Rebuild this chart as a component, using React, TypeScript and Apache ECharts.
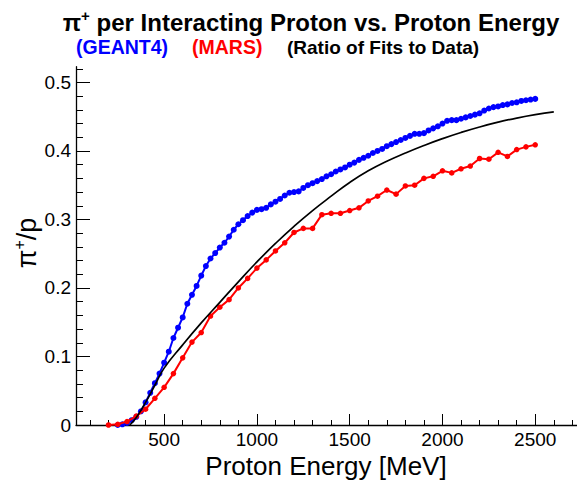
import React, { useEffect, useRef } from "react";
import * as echarts from "echarts";

// GEANT4 (blue)
const geantEnergy = [
  250, 275, 300, 325, 350, 375, 400, 425, 450, 475, 500, 525, 550, 575, 600, 625, 650, 675, 700, 725,
  750, 775, 800, 825, 850, 875, 900, 925, 950, 975, 1000, 1025, 1050, 1075, 1100, 1125, 1150, 1175, 1200, 1225,
  1250, 1275, 1300, 1325, 1350, 1375, 1400, 1425, 1450, 1475, 1500, 1525, 1550, 1575, 1600, 1625, 1650, 1675, 1700, 1725,
  1750, 1775, 1800, 1825, 1850, 1875, 1900, 1925, 1950, 1975, 2000, 2025, 2050, 2075, 2100, 2125, 2150, 2175, 2200, 2225,
  2250, 2275, 2300, 2325, 2350, 2375, 2400, 2425, 2450, 2475, 2500,
];
const geantRatio = [
  0.0, 0.001, 0.003, 0.007, 0.012, 0.02, 0.033, 0.047, 0.061, 0.075, 0.091, 0.107, 0.127, 0.142, 0.157, 0.177, 0.19, 0.203, 0.218, 0.232,
  0.243, 0.251, 0.259, 0.266, 0.275, 0.285, 0.293, 0.299, 0.305, 0.31, 0.314, 0.315, 0.317, 0.322, 0.326, 0.33, 0.335, 0.339, 0.34, 0.341,
  0.346, 0.35, 0.353, 0.356, 0.359, 0.363, 0.366, 0.37, 0.373, 0.376, 0.38, 0.383, 0.387, 0.39, 0.393, 0.397, 0.4, 0.403, 0.407, 0.41,
  0.413, 0.416, 0.419, 0.422, 0.425, 0.425, 0.426, 0.43, 0.433, 0.436, 0.44, 0.444, 0.445, 0.445, 0.447, 0.449, 0.451, 0.453, 0.455, 0.459,
  0.462, 0.464, 0.465, 0.467, 0.468, 0.47, 0.471, 0.473, 0.474, 0.475, 0.476,
];

// MARS (red)
const marsEnergy = [
  200, 250, 300, 350, 400, 450, 500, 550, 600, 650, 700, 750, 800, 850, 900, 950, 1000, 1050, 1100, 1150,
  1200, 1250, 1300, 1350, 1400, 1450, 1500, 1550, 1600, 1650, 1700, 1750, 1800, 1850, 1900, 1950, 2000, 2050, 2100, 2150,
  2200, 2250, 2300, 2350, 2400, 2450, 2500,
];
const marsRatio = [
  0.0, 0.001, 0.005, 0.013, 0.023, 0.039, 0.055, 0.075, 0.098, 0.121, 0.135, 0.159, 0.172, 0.183, 0.2, 0.214, 0.229, 0.241, 0.254, 0.266,
  0.281, 0.287, 0.287, 0.307, 0.309, 0.309, 0.313, 0.317, 0.327, 0.334, 0.343, 0.337, 0.349, 0.35, 0.36, 0.363, 0.371, 0.368, 0.374, 0.378,
  0.389, 0.388, 0.398, 0.392, 0.402, 0.406, 0.409,
];

// Fit (black)
const fitEnergy = [
  315, 350, 400, 450, 500, 600, 700, 800, 900, 1000, 1100, 1200, 1300, 1400, 1500, 1600, 1700, 1800, 1900, 2000,
  2100, 2200, 2300, 2400, 2500, 2600,
];
const fitRatio = [
  0.0, 0.011, 0.033, 0.058, 0.083, 0.117, 0.149, 0.179, 0.209, 0.238, 0.265, 0.29, 0.313, 0.334, 0.354, 0.371, 0.385, 0.397, 0.408, 0.418,
  0.427, 0.435, 0.442, 0.448, 0.453, 0.457,
];

const xMajorTicks = [500, 1000, 1500, 2000, 2500];
const xMinorTicks = [100, 200, 300, 400, 600, 700, 800, 900, 1100, 1200, 1300, 1400, 1600, 1700, 1800, 1900, 2100, 2200, 2300, 2400, 2600, 2700];
const yMajorTicks = [0, 0.1, 0.2, 0.3, 0.4, 0.5];
const yMinorTicks = [0.02, 0.04, 0.06, 0.08, 0.12, 0.14, 0.16, 0.18, 0.22, 0.24, 0.26, 0.28, 0.32, 0.34, 0.36, 0.38, 0.42, 0.44, 0.46, 0.48, 0.52];

const FONT = "Liberation Sans, Arial, Helvetica, sans-serif";

function zip(xs: number[], ys: number[]) {
  return xs.map((x, i) => [x, ys[i]]);
}

export default function App() {
  const ref = useRef<HTMLDivElement>(null);
  useEffect(() => {
    if (!ref.current) return;
    const chart = echarts.init(ref.current, null, { renderer: "svg" });
    const X_MIN = 25;
    const X_MAX = 2725;
    const Y_MIN = 0;
    const Y_MAX = 0.523;
    chart.setOption({
      animation: false,
      backgroundColor: "#ffffff",
      grid: { left: 76, top: 66.7, right: 0, bottom: 56, containLabel: false },
      xAxis: [
        {
          type: "value",
          min: X_MIN,
          max: X_MAX,
          position: "bottom",
          axisLine: { show: true, lineStyle: { color: "#000", width: 1.3 } },
          axisTick: { show: true, inside: true, length: 11, customValues: xMajorTicks, lineStyle: { color: "#000", width: 1 } },
          axisLabel: {
            show: true,
            customValues: xMajorTicks,
            color: "#000",
            fontSize: 19,
            fontFamily: FONT,
            margin: 5,
            formatter: (v: number) => String(v),
          },
          splitLine: { show: false },
        },
        {
          type: "value",
          min: X_MIN,
          max: X_MAX,
          position: "bottom",
          axisLine: { show: false },
          axisTick: { show: true, inside: true, length: 5, customValues: xMinorTicks, lineStyle: { color: "#000", width: 1 } },
          axisLabel: { show: false },
          splitLine: { show: false },
        },
      ],
      yAxis: [
        {
          type: "value",
          min: Y_MIN,
          max: Y_MAX,
          position: "left",
          axisLine: { show: true, lineStyle: { color: "#000", width: 1.3 } },
          axisTick: { show: true, inside: true, length: 14, customValues: yMajorTicks, lineStyle: { color: "#000", width: 1 } },
          axisLabel: {
            show: true,
            customValues: yMajorTicks,
            color: "#000",
            fontSize: 19,
            fontFamily: FONT,
            margin: 5,
            formatter: (v: number) => (v === 0 ? "0" : String(Math.round(v * 10) / 10)),
          },
          splitLine: { show: false },
        },
        {
          type: "value",
          min: Y_MIN,
          max: Y_MAX,
          position: "left",
          axisLine: { show: false },
          axisTick: { show: true, inside: true, length: 7, customValues: yMinorTicks, lineStyle: { color: "#000", width: 1 } },
          axisLabel: { show: false },
          splitLine: { show: false },
        },
      ],
      series: [
        {
          name: "GEANT4",
          type: "line",
          xAxisIndex: 0,
          yAxisIndex: 0,
          data: zip(geantEnergy, geantRatio),
          symbol: "circle",
          symbolSize: 6,
          lineStyle: { color: "#0000ff", width: 2 },
          itemStyle: { color: "#0000ff" },
          z: 3,
        },
        {
          name: "MARS",
          type: "line",
          xAxisIndex: 0,
          yAxisIndex: 0,
          data: zip(marsEnergy, marsRatio),
          symbol: "circle",
          symbolSize: 5.5,
          lineStyle: { color: "#ff0000", width: 2 },
          itemStyle: { color: "#ff0000" },
          z: 4,
        },
        {
          name: "Fit",
          type: "line",
          xAxisIndex: 0,
          yAxisIndex: 0,
          data: zip(fitEnergy, fitRatio),
          symbol: "none",
          smooth: 0.5,
          lineStyle: { color: "#000000", width: 1.7 },
          z: 5,
        },
      ],
      graphic: [
        {
          type: "text",
          x: 311,
          y: 20,
          style: {
            text: "{a|π}{s|+}{a| per Interacting Proton vs. Proton Energy}",
            align: "center",
            verticalAlign: "middle",
            rich: {
              a: { fontSize: 24, fontWeight: "bold", fontFamily: FONT, fill: "#000", lineHeight: 28, verticalAlign: "bottom" },
              s: { fontSize: 15, fontWeight: "bold", fontFamily: FONT, fill: "#000", lineHeight: 28, verticalAlign: "top", padding: [2, 0, 0, 0] },
            },
          },
        },
        {
          type: "text",
          x: 76,
          y: 47,
          style: { text: "(GEANT4)", fill: "#0000ff", fontSize: 19.5, fontWeight: "bold", fontFamily: FONT, verticalAlign: "middle" },
        },
        {
          type: "text",
          x: 192,
          y: 47,
          style: { text: "(MARS)", fill: "#ff0000", fontSize: 19.5, fontWeight: "bold", fontFamily: FONT, verticalAlign: "middle" },
        },
        {
          type: "text",
          x: 287,
          y: 47,
          style: { text: "(Ratio of Fits to Data)", fill: "#000", fontSize: 19, fontWeight: "bold", fontFamily: FONT, verticalAlign: "middle" },
        },
        {
          type: "text",
          x: 24,
          y: 243,
          rotation: Math.PI / 2,
          style: {
            text: "{a|π}{s|+}{a|/p}",
            align: "center",
            verticalAlign: "middle",
            rich: {
              a: { fontSize: 27, fontFamily: FONT, fill: "#000", lineHeight: 32, verticalAlign: "bottom" },
              s: { fontSize: 16, fontFamily: FONT, fill: "#000", lineHeight: 32, verticalAlign: "top", padding: [3, 0, 0, 0] },
            },
          },
        },
        {
          type: "text",
          x: 326,
          y: 466,
          style: {
            text: "Proton Energy [MeV]",
            fill: "#000",
            fontSize: 26,
            fontFamily: FONT,
            align: "center",
            verticalAlign: "middle",
          },
        },
      ],
    });
    return () => chart.dispose();
  }, []);
  return <div ref={ref} style={{ position: "absolute", left: 0, top: 0, width: 577, height: 481 }} />;
}
